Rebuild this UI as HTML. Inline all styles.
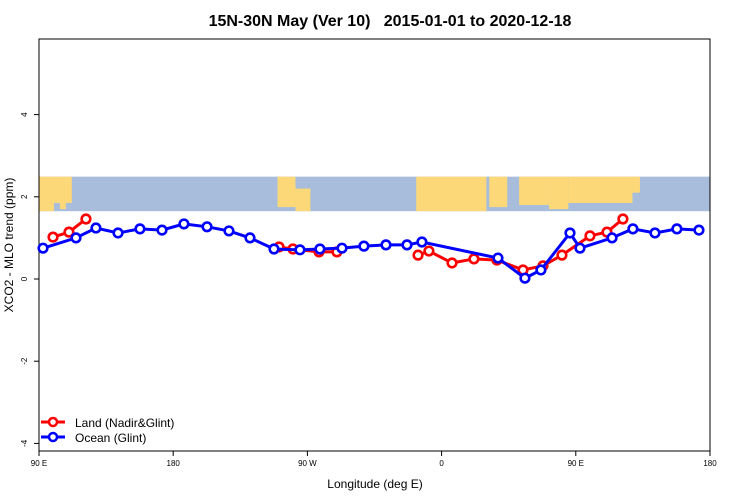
<!DOCTYPE html>
<html><head><meta charset="utf-8"><style>
body{margin:0;background:#fff;}
svg{display:block;font-family:"Liberation Sans",sans-serif;}
</style></head><body>
<svg id="c" width="750" height="500">
<text x="390" y="26" text-anchor="middle" font-size="16" font-weight="bold" style="white-space:pre" xml:space="preserve">15N-30N May (Ver 10)   2015-01-01 to 2020-12-18</text>
<g id="map"></g>
<g id="axes"></g>
<g id="series"></g>
<text x="375" y="488" text-anchor="middle" font-size="12">Longitude (deg E)</text>
<text transform="translate(13,245) rotate(-90)" text-anchor="middle" font-size="12">XCO2 - MLO trend (ppm)</text>
<g>
<g><line x1="41" y1="422" x2="65" y2="422" stroke="#f00" stroke-width="3"/><circle cx="53" cy="422" r="4" fill="#fff" stroke="#f00" stroke-width="2.5"/><text x="75" y="427" font-size="12">Land (Nadir&amp;Glint)</text></g>
<g><line x1="41" y1="437" x2="65" y2="437" stroke="#00f" stroke-width="3"/><circle cx="53" cy="437" r="4" fill="#fff" stroke="#00f" stroke-width="2.5"/><text x="75" y="442" font-size="12">Ocean (Glint)</text></g>
</g>
</svg>
<script>
const xTicks=[90,180,270,360,450,540];
const xTickLabels=["90 E","180","90 W","0","90 E","180"];
const yTicks=[-4,-2,0,2,4];
const oceanLon=[92.7,114.8,128.2,143.0,157.7,172.5,187.2,202.7,217.4,231.5,247.6,265.0,278.4,293.2,307.9,322.7,336.8,346.8,397.8,415.9,426.6,446.1,452.8,474.3,488.3,503.1,517.8,532.6];
const oceanVal=[0.75,1.0,1.24,1.12,1.22,1.19,1.34,1.27,1.17,1.0,0.73,0.71,0.73,0.75,0.80,0.83,0.83,0.90,0.51,0.02,0.22,1.12,0.75,1.0,1.22,1.12,1.22,1.19];
const landLon=[99.4,110.1,121.5,null,251.0,260.3,277.8,289.8,null,344.2,351.5,367.0,381.7,397.1,414.6,428.0,440.7,459.5,470.9,481.6];
const landVal=[1.02,1.14,1.46,null,0.78,0.73,0.66,0.66,null,0.58,0.68,0.39,0.49,0.46,0.22,0.32,0.58,1.05,1.14,1.46];
const L=39,R=710,T=39,B=451;
const X=v=>L+(v-90)*(R-L)/450;
const Y=v=>279-v*41.1;
const NS="http://www.w3.org/2000/svg";
function mk(t,a,p){const e=document.createElementNS(NS,t);for(const k in a)e.setAttribute(k,a[k]);p.appendChild(e);return e;}
const map=document.getElementById('map');
mk('rect',{x:L,y:Y(2.49),width:R-L,height:Y(1.65)-Y(2.49),fill:'#a7bddb'},map);
const land=[[90,112,2.49,1.85],[90,100,1.85,1.65],[104,108,2.0,1.7],[250,262,2.49,1.75],[262,272,2.2,1.65],[343,390,2.49,1.65],[392,404,2.49,1.75],[412,432,2.49,1.8],[432,445,2.49,1.7],[445,488,2.49,1.85],[488,493,2.49,2.1]];
land.forEach(b=>{mk('rect',{x:X(b[0]),y:Y(b[2]),width:X(b[1])-X(b[0]),height:Y(b[3])-Y(b[2]),fill:'#fdd878'},map);});
const ax=document.getElementById('axes');
const frame=mk('rect',{x:L,y:T,width:R-L,height:B-T,fill:'none',stroke:'#000','stroke-width':1},ax);


xTicks.forEach((t,i)=>{mk('line',{x1:X(t),x2:X(t),y1:B,y2:B+5,stroke:'#000'},ax);
const tx=mk('text',{x:X(t),y:B+15,'text-anchor':'middle','font-size':8},ax);tx.textContent=xTickLabels[i];

});
yTicks.forEach(t=>{mk('line',{x1:L-5,x2:L,y1:Y(t),y2:Y(t),stroke:'#000'},ax);
const tx=mk('text',{transform:`translate(${L-12},${Y(t)}) rotate(-90)`,'text-anchor':'middle','font-size':8},ax);tx.textContent=String(t);

});
const S=document.getElementById('series');
function draw(lon,val,col,name){const g=mk('g',{},S);


let d='',pen=false;lon.forEach((l,i)=>{if(l===null){pen=false;return;}d+=(pen?'L':'M')+X(l)+' '+Y(val[i]);pen=true;});
mk('path',{d:d,fill:'none',stroke:col,'stroke-width':3},g);
lon.forEach((l,i)=>{if(l===null)return;const c=mk('circle',{cx:X(l),cy:Y(val[i]),r:4.3,fill:'#fff',stroke:col,'stroke-width':2.6},g);

});}
draw(landLon,landVal,'#f00','land-series');
draw(oceanLon,oceanVal,'#00f','ocean-series');
</script>
</body></html>
